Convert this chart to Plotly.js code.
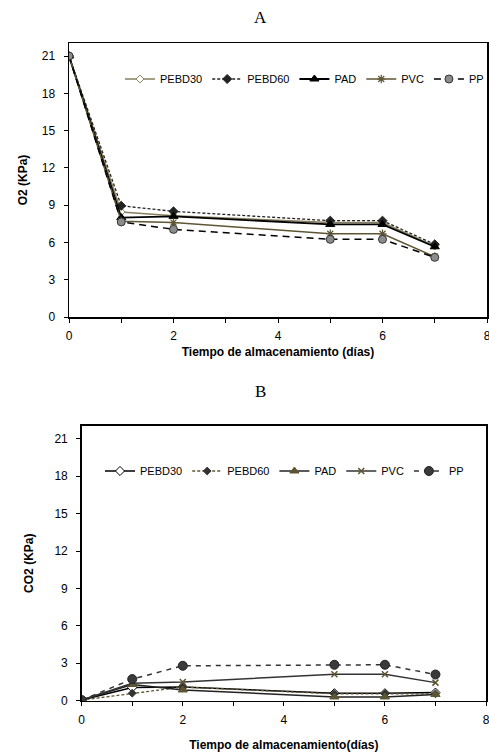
<!DOCTYPE html>
<html>
<head>
<meta charset="utf-8">
<script src="https://cdn.plot.ly/plotly-3.0.1.min.js"></script>
<style>html,body{margin:0;padding:0;background:#fff;}#chart{width:489px;height:752px;}</style>
</head>
<body>
<div id="chart"></div>
<script>
var days = [0, 1, 2, 5, 6, 7];
var seriesNames = ["PEBD30", "PEBD60", "PAD", "PVC", "PP"];

// O2 (KPa)
var o2_PEBD30 = [21, 8.45, 8.15, 7.6, 7.6, 5.7];
var o2_PEBD60 = [21, 8.95, 8.5, 7.75, 7.75, 5.85];
var o2_PAD    = [21, 8.0, 8.1, 7.45, 7.45, 5.65];
var o2_PVC    = [21, 7.7, 7.6, 6.7, 6.7, 4.85];
var o2_PP     = [21, 7.65, 7.05, 6.25, 6.25, 4.8];

// CO2 (KPa)
var co2_PEBD30 = [0.05, 1.05, 1.1, 0.6, 0.6, 0.65];
var co2_PEBD60 = [0.05, 0.6, 1.1, 0.55, 0.55, 0.55];
var co2_PAD    = [0.05, 1.3, 0.86, 0.3, 0.3, 0.5];
var co2_PVC    = [0.05, 1.4, 1.5, 2.12, 2.12, 1.45];
var co2_PP     = [0.05, 1.73, 2.8, 2.88, 2.88, 2.1];

var xTickVals = [0, 1, 2, 3, 4, 5, 6, 7, 8];
var xTickText = ["0", "", "2", "", "4", "", "6", "", "8"];
var yTickVals = [0, 3, 6, 9, 12, 15, 18, 21];

var FONT = "Liberation Sans, Arial, sans-serif";
var tan = "#8a7f5c";
var olive = "#5e5533";

var o2Styles = [
  {line:{color:tan, width:1.5, dash:"solid"}, marker:{symbol:"diamond", size:6, color:"#ffffff", line:{color:tan, width:1}}},
  {line:{color:"#222222", width:1.3, dash:"3px,2px"}, marker:{symbol:"diamond", size:7, color:"#222222", line:{color:"#222222", width:1}}},
  {line:{color:"#000000", width:1.8, dash:"solid"}, marker:{symbol:"triangle-up", size:8, color:"#000000", line:{color:"#000000", width:1}}},
  {line:{color:olive, width:1.5, dash:"solid"}, marker:{symbol:"asterisk", size:7, color:olive, line:{color:olive, width:1.2}}},
  {line:{color:"#000000", width:1.5, dash:"7px,5px"}, marker:{symbol:"circle", size:8, color:"#8c8c8c", line:{color:"#333333", width:1}}}
];
var co2Styles = [
  {line:{color:"#000000", width:1.5, dash:"solid"}, marker:{symbol:"diamond", size:7, color:"#ffffff", line:{color:"#000000", width:1}}},
  {line:{color:olive, width:1.3, dash:"3px,2px"}, marker:{symbol:"diamond", size:6, color:"#333333", line:{color:"#333333", width:1}}},
  {line:{color:"#222222", width:1.5, dash:"solid"}, marker:{symbol:"triangle-up", size:8, color:olive, line:{color:olive, width:1}}},
  {line:{color:"#333333", width:1.5, dash:"solid"}, marker:{symbol:"x-thin", size:6, color:olive, line:{color:olive, width:1.5}}},
  {line:{color:"#333333", width:1.5, dash:"5px,5px"}, marker:{symbol:"circle", size:9, color:"#3a3a3a", line:{color:"#222222", width:1}}}
];

var o2Data = [o2_PEBD30, o2_PEBD60, o2_PAD, o2_PVC, o2_PP];
var co2Data = [co2_PEBD30, co2_PEBD60, co2_PAD, co2_PVC, co2_PP];

var traces = [];
for (var i = 0; i < seriesNames.length; i++) {
  traces.push({x: days, y: o2Data[i], name: seriesNames[i], type: "scatter", mode: "lines+markers",
    xaxis: "x", yaxis: "y", legend: "legend", line: o2Styles[i].line, marker: o2Styles[i].marker});
}
for (var j = 0; j < seriesNames.length; j++) {
  traces.push({x: days, y: co2Data[j], name: seriesNames[j], type: "scatter", mode: "lines+markers",
    xaxis: "x2", yaxis: "y2", legend: "legend2", line: co2Styles[j].line, marker: co2Styles[j].marker});
}

function xAxis(domain, anchor, title, standoff) {
  return {domain: domain, anchor: anchor, range: [0, 8], tickvals: xTickVals, ticktext: xTickText,
    ticks: "outside", ticklen: 4, tickcolor: "#000", showline: true, linecolor: "#000", linewidth: 1.5,
    mirror: true, showgrid: false, zeroline: false, ticklabelstandoff: 3, ticklabeloverflow: "allow",
    tickfont: {family: FONT, size: 12, color: "#000"},
    title: {text: title, font: {family: FONT, size: 12, color: "#000", weight: "bold"}, standoff: standoff}};
}
function yAxis(domain, anchor, title, standoff) {
  return {domain: domain, anchor: anchor, range: [0, 22.05], tickvals: yTickVals,
    ticks: "outside", ticklen: 4, tickcolor: "#000", showline: true, linecolor: "#000", linewidth: 1.5,
    mirror: true, showgrid: false, zeroline: false, ticklabelstandoff: 6,
    tickfont: {family: FONT, size: 12, color: "#000"},
    title: {text: title, font: {family: FONT, size: 12, color: "#000", weight: "bold"}, standoff: standoff}};
}

var layout = {
  width: 489, height: 752, margin: {l: 0, r: 0, t: 0, b: 0},
  paper_bgcolor: "#fff", plot_bgcolor: "#fff", showlegend: true,
  xaxis: xAxis([69/489, 487/489], "y", "Tiempo de almacenamiento (días)", 5),
  yaxis: yAxis([1 - 317/752, 1 - 43/752], "x", "O2 (KPa)", 11),
  xaxis2: xAxis([81.7/489, 486/489], "y2", "Tiempo de almacenamiento(días)", 15),
  yaxis2: yAxis([1 - 700.7/752, 1 - 425.7/752], "x2", "CO2 (KPa)", 18),
  legend: {orientation: "h", x: 120/489, y: 1 - 79/752, xanchor: "left", yanchor: "middle",
    font: {family: FONT, size: 11, color: "#000"}, itemwidth: 30, tracegroupgap: 0, bgcolor: "rgba(0,0,0,0)"},
  legend2: {orientation: "h", x: 100/489, y: 1 - 471/752, xanchor: "left", yanchor: "middle",
    font: {family: FONT, size: 11, color: "#000"}, itemwidth: 30, tracegroupgap: 0, bgcolor: "rgba(0,0,0,0)"},
  annotations: [
    {text: "A", xref: "paper", yref: "paper", x: 260/489, y: 1 - 17/752, showarrow: false,
      xanchor: "center", yanchor: "middle", font: {family: "Liberation Serif, Times New Roman, serif", size: 17, color: "#000"}},
    {text: "B", xref: "paper", yref: "paper", x: 260/489, y: 1 - 391/752, showarrow: false,
      xanchor: "center", yanchor: "middle", font: {family: "Liberation Serif, Times New Roman, serif", size: 17, color: "#000"}}
  ]
};

Plotly.newPlot("chart", traces, layout, {displayModeBar: false, staticPlot: true});
</script>
</body>
</html>
